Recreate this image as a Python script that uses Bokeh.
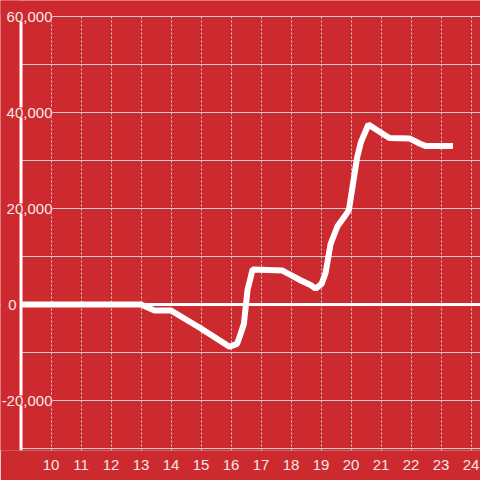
from bokeh.plotting import figure
from bokeh.models import Range1d, FixedTicker, Label, Span, BoxAnnotation
from bokeh.embed import file_html
from bokeh.resources import INLINE

# ---- data ----
x_vals = [9.0, 13.0, 13.45, 14.0, 15.0, 15.95, 16.2, 16.3, 16.43, 16.55, 16.72, 17.7,
          18.0, 18.33, 18.67, 18.82, 19.02, 19.15, 19.32, 19.55, 19.85, 19.93, 20.2,
          20.33, 20.58, 20.9, 21.28, 21.95, 22.3, 22.5, 23.4]
y_vals = [0, 0, -1250, -1250, -5000, -8800, -8200, -6500, -4000, 3000, 7300, 7100,
          6100, 5000, 4000, 3300, 4300, 6500, 12600, 16300, 18900, 19700, 30500,
          33800, 37500, 36200, 34700, 34600, 33500, 33000, 33000]
x_ticks = [10, 11, 12, 13, 14, 15, 16, 17, 18, 19, 20, 21, 22, 23, 24]
y_grid_vals = [-30000, -20000, -10000, 0, 10000, 20000, 30000, 40000, 50000, 60000]
y_tick_vals = [-20000, 0, 20000, 40000, 60000]
y_tick_text = ["-20,000", "0", "20,000", "40,000", "60,000"]
axis_x = 9.0          # where the y axis crosses
y_min, y_max = -30000, 60000

BG = "#cd2a30"
TXT = "#f6e6e6"
GRID = "#d2cccc"
FONT = "Liberation Sans"
FSIZE = "15px"

W, H = 480, 480
FRAME_H = 450
px_x = 30.0                      # pixels per x unit
px_y = 48.0 / 10000              # pixels per y unit
x_start = axis_x - 20.5 / px_x
x_end = x_start + W / px_x
y_top = y_max + 16 / px_y
y_bot = y_min - 2 / px_y

p = figure(width=W, height=H, output_backend="svg", toolbar_location=None,
           x_range=Range1d(x_start, x_end), y_range=Range1d(y_bot, y_top),
           min_border_left=0, min_border_right=0, min_border_top=0,
           min_border_bottom=H - FRAME_H,
           background_fill_color=BG, border_fill_color=BG, outline_line_color=None)

# x axis (line drawn by the grid at y_min)
p.xaxis.ticker = FixedTicker(ticks=x_ticks)
p.xaxis.axis_line_color = None
p.xaxis.major_tick_line_color = None
p.xaxis.minor_tick_line_color = None
p.xaxis.major_label_text_color = TXT
p.xaxis.major_label_text_font = FONT
p.xaxis.major_label_text_font_size = FSIZE
p.xaxis.major_label_standoff = 3
p.yaxis.visible = False

# grids
p.xgrid.grid_line_color = GRID
p.xgrid.grid_line_dash = "2 2"
p.xgrid.grid_line_width = 1
p.ygrid.ticker = FixedTicker(ticks=y_grid_vals)
p.ygrid.grid_line_color = GRID
p.ygrid.grid_line_width = 1

# data line
p.line(x_vals, y_vals, line_color="white", line_width=6)

# zero line
p.add_layout(Span(location=0, dimension="width", line_color="white", line_width=3))
# plain strip left of the y axis
p.add_layout(BoxAnnotation(right=axis_x, fill_color=BG, fill_alpha=1.0, line_color=None))
# y axis line
p.add_layout(Span(location=axis_x, dimension="height", line_color="white", line_width=3))
# plain strip above the top grid line
p.add_layout(BoxAnnotation(bottom=y_max + 1 / px_y, fill_color=BG, fill_alpha=1.0, line_color=None))

# y tick labels drawn over the plot with background boxes
for v, t in zip(y_tick_vals, y_tick_text):
    p.add_layout(Label(x=16 if v == 0 else 52, y=v, x_units="screen", text=t,
                       text_align="right", text_baseline="middle",
                       text_font=FONT, text_font_size=FSIZE, text_color=TXT,
                       background_fill_color=BG, background_fill_alpha=1.0))

open("out.html", "w").write(file_html(p, INLINE))
